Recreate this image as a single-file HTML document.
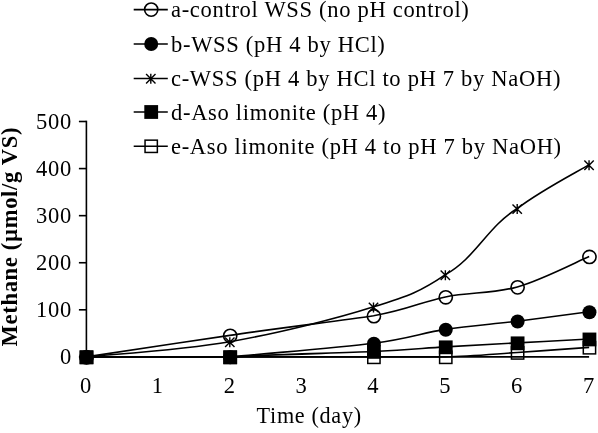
<!DOCTYPE html>
<html><head><meta charset="utf-8"><title>Methane chart</title>
<style>html,body{margin:0;padding:0;background:#fff}body{width:598px;height:433px;overflow:hidden}svg{display:block}</style></head>
<body>
<svg width="598" height="433" viewBox="0 0 598 433">
<rect width="598" height="433" fill="#fff"/>
<g stroke="#000" stroke-width="1.60" fill="none">
<path d="M86.40 120.70 V357.70"/>
<path d="M86.40 356.90 H589.10"/>
<path d="M78.90 356.90 H86.40"/>
<path d="M78.90 309.82 H86.40"/>
<path d="M78.90 262.74 H86.40"/>
<path d="M78.90 215.66 H86.40"/>
<path d="M78.90 168.58 H86.40"/>
<path d="M78.90 121.50 H86.40"/>
</g>
<g font-family="'Liberation Serif', serif" font-size="23.6" letter-spacing="0.00" fill="#000">
<text transform="translate(71.98,364.10) scale(0.940,1)" font-size="24.0" letter-spacing="0.72" text-anchor="end">0</text>
<text transform="translate(71.98,317.02) scale(0.940,1)" font-size="24.0" letter-spacing="0.72" text-anchor="end">100</text>
<text transform="translate(71.98,269.94) scale(0.940,1)" font-size="24.0" letter-spacing="0.72" text-anchor="end">200</text>
<text transform="translate(71.98,222.86) scale(0.940,1)" font-size="24.0" letter-spacing="0.72" text-anchor="end">300</text>
<text transform="translate(71.98,175.78) scale(0.940,1)" font-size="24.0" letter-spacing="0.72" text-anchor="end">400</text>
<text transform="translate(71.98,128.70) scale(0.940,1)" font-size="24.0" letter-spacing="0.72" text-anchor="end">500</text>
<text transform="translate(85.94,392.60) scale(0.940,1)" font-size="24.0" letter-spacing="0.72" text-anchor="middle">0</text>
<text transform="translate(157.79,392.60) scale(0.940,1)" font-size="24.0" letter-spacing="0.72" text-anchor="middle">1</text>
<text transform="translate(229.64,392.60) scale(0.940,1)" font-size="24.0" letter-spacing="0.72" text-anchor="middle">2</text>
<text transform="translate(301.49,392.60) scale(0.940,1)" font-size="24.0" letter-spacing="0.72" text-anchor="middle">3</text>
<text transform="translate(373.34,392.60) scale(0.940,1)" font-size="24.0" letter-spacing="0.72" text-anchor="middle">4</text>
<text transform="translate(445.19,392.60) scale(0.940,1)" font-size="24.0" letter-spacing="0.72" text-anchor="middle">5</text>
<text transform="translate(517.04,392.60) scale(0.940,1)" font-size="24.0" letter-spacing="0.72" text-anchor="middle">6</text>
<text transform="translate(588.89,392.60) scale(0.940,1)" font-size="24.0" letter-spacing="0.72" text-anchor="middle">7</text>
<text transform="translate(256.60,423.30) scale(0.940,1)" font-size="23.6" letter-spacing="0.72" text-anchor="start">Time (day)</text>
<text transform="translate(16.60,346.40) rotate(-90) scale(0.940,1)" font-size="24.0" letter-spacing="0.72" text-anchor="start" font-weight="bold">Methane (µmol/g VS)</text>
</g>
<path d="M86.20 356.90 C110.15 353.31 182.00 342.23 229.90 335.38 C277.80 328.03 337.67 321.21 373.60 315.80 C409.52 309.39 421.50 301.73 445.45 296.92 C469.40 292.11 493.35 293.67 517.30 286.94 C541.25 280.21 577.17 261.59 589.15 256.53" stroke="#000" stroke-width="1.60" fill="none"/>
<circle cx="86.50" cy="357.30" r="6.6" fill="none" stroke="#000" stroke-width="1.6"/>
<circle cx="230.20" cy="335.78" r="6.6" fill="none" stroke="#000" stroke-width="1.6"/>
<circle cx="373.90" cy="316.20" r="6.6" fill="none" stroke="#000" stroke-width="1.6"/>
<circle cx="445.75" cy="297.32" r="6.6" fill="none" stroke="#000" stroke-width="1.6"/>
<circle cx="517.60" cy="287.34" r="6.6" fill="none" stroke="#000" stroke-width="1.6"/>
<circle cx="589.45" cy="256.93" r="6.6" fill="none" stroke="#000" stroke-width="1.6"/>
<path d="M86.20 356.90 C110.15 356.90 182.00 356.90 229.90 356.90 C277.80 352.35 337.67 347.84 373.60 343.25 C409.52 338.66 421.50 333.04 445.45 329.36 C469.40 325.68 493.35 324.09 517.30 321.17 C541.25 318.24 577.17 313.36 589.15 311.80" stroke="#000" stroke-width="1.60" fill="none"/>
<circle cx="86.50" cy="357.30" r="7" fill="#000"/>
<circle cx="230.20" cy="357.30" r="7" fill="#000"/>
<circle cx="373.90" cy="343.65" r="7" fill="#000"/>
<circle cx="445.75" cy="329.76" r="7" fill="#000"/>
<circle cx="517.60" cy="321.57" r="7" fill="#000"/>
<circle cx="589.45" cy="312.20" r="7" fill="#000"/>
<path d="M86.20 356.90 C110.15 354.37 182.00 350.04 229.90 341.69 C277.80 333.34 337.67 318.39 373.60 306.81 C409.52 295.63 421.50 290.99 445.45 274.60 C475.40 258.22 487.35 226.83 517.30 208.50 C541.25 190.17 577.17 171.94 589.15 164.63" stroke="#000" stroke-width="1.60" fill="none"/>
<path d="M81.40 352.80 L90.80 362.20 M81.40 362.20 L90.80 352.80 M86.10 352.50 L86.10 362.50" stroke="#000" stroke-width="1.4" fill="none"/>
<path d="M225.10 337.59 L234.50 346.99 M225.10 346.99 L234.50 337.59 M229.80 337.29 L229.80 347.29" stroke="#000" stroke-width="1.4" fill="none"/>
<path d="M368.80 302.71 L378.20 312.11 M368.80 312.11 L378.20 302.71 M373.50 302.41 L373.50 312.41" stroke="#000" stroke-width="1.4" fill="none"/>
<path d="M440.65 270.50 L450.05 279.90 M440.65 279.90 L450.05 270.50 M445.35 270.20 L445.35 280.20" stroke="#000" stroke-width="1.4" fill="none"/>
<path d="M512.50 204.40 L521.90 213.80 M512.50 213.80 L521.90 204.40 M517.20 204.10 L517.20 214.10" stroke="#000" stroke-width="1.4" fill="none"/>
<path d="M584.35 160.53 L593.75 169.93 M584.35 169.93 L593.75 160.53 M589.05 160.23 L589.05 170.23" stroke="#000" stroke-width="1.4" fill="none"/>
<path d="M86.20 356.90 C110.15 356.90 182.00 356.90 229.90 356.90 C277.80 354.19 337.67 353.15 373.60 351.49 C409.52 349.82 421.50 348.35 445.45 346.92 C469.40 345.49 493.35 344.23 517.30 342.92 C541.25 341.61 577.17 339.70 589.15 339.06" stroke="#000" stroke-width="1.60" fill="none"/>
<rect x="79.60" y="350.40" width="13.8" height="13.8" fill="#000"/>
<rect x="223.30" y="350.40" width="13.8" height="13.8" fill="#000"/>
<rect x="367.00" y="344.99" width="13.8" height="13.8" fill="#000"/>
<rect x="438.85" y="340.42" width="13.8" height="13.8" fill="#000"/>
<rect x="510.70" y="336.42" width="13.8" height="13.8" fill="#000"/>
<rect x="582.55" y="332.56" width="13.8" height="13.8" fill="#000"/>
<path d="M86.20 356.90 C110.15 356.90 182.00 356.90 229.90 356.90 C277.80 356.90 337.67 356.90 373.60 356.90 C409.52 356.90 421.50 356.90 445.45 356.90 C469.40 356.39 493.35 354.11 517.30 352.52 C541.25 350.93 577.17 348.21 589.15 347.34" stroke="#000" stroke-width="1.60" fill="none"/>
<rect x="80.35" y="351.15" width="12.3" height="12.3" fill="none" stroke="#000" stroke-width="1.5"/>
<rect x="224.05" y="351.15" width="12.3" height="12.3" fill="none" stroke="#000" stroke-width="1.5"/>
<rect x="367.75" y="351.15" width="12.3" height="12.3" fill="none" stroke="#000" stroke-width="1.5"/>
<rect x="439.60" y="351.15" width="12.3" height="12.3" fill="none" stroke="#000" stroke-width="1.5"/>
<rect x="511.45" y="346.77" width="12.3" height="12.3" fill="none" stroke="#000" stroke-width="1.5"/>
<rect x="583.30" y="341.59" width="12.3" height="12.3" fill="none" stroke="#000" stroke-width="1.5"/>
<g font-family="'Liberation Serif', serif" font-size="24.1" letter-spacing="0.00" fill="#000">
<path d="M133.7 9.60 H167.8" stroke="#000" stroke-width="1.60"/>
<circle cx="151.20" cy="9.60" r="6.6" fill="none" stroke="#000" stroke-width="1.6"/>
<text transform="translate(171.00,17.10) scale(0.940,1)" font-size="24.0" letter-spacing="0.72" text-anchor="start">a-control WSS (no pH control)</text>
<path d="M133.7 44.00 H167.8" stroke="#000" stroke-width="1.60"/>
<circle cx="151.20" cy="44.00" r="7" fill="#000"/>
<text transform="translate(171.00,51.50) scale(0.940,1)" font-size="24.0" letter-spacing="0.72" text-anchor="start">b-WSS (pH 4 by HCl)</text>
<path d="M133.7 78.50 H167.8" stroke="#000" stroke-width="1.60"/>
<path d="M146.10 74.00 L155.50 83.40 M146.10 83.40 L155.50 74.00 M150.80 73.70 L150.80 83.70" stroke="#000" stroke-width="1.4" fill="none"/>
<text transform="translate(171.00,86.00) scale(0.940,1)" font-size="24.0" letter-spacing="0.72" text-anchor="start">c-WSS (pH 4 by HCl to pH 7 by NaOH)</text>
<path d="M133.7 112.00 H167.8" stroke="#000" stroke-width="1.60"/>
<rect x="144.30" y="105.10" width="13.8" height="13.8" fill="#000"/>
<text transform="translate(171.00,119.50) scale(0.940,1)" font-size="24.0" letter-spacing="0.72" text-anchor="start">d-Aso limonite (pH 4)</text>
<path d="M133.7 146.30 H167.8" stroke="#000" stroke-width="1.60"/>
<rect x="145.05" y="140.15" width="12.3" height="12.3" fill="none" stroke="#000" stroke-width="1.5"/>
<text transform="translate(171.00,153.80) scale(0.940,1)" font-size="24.0" letter-spacing="0.72" text-anchor="start">e-Aso limonite (pH 4 to pH 7 by NaOH)</text>
</g>
</svg>
</body></html>
